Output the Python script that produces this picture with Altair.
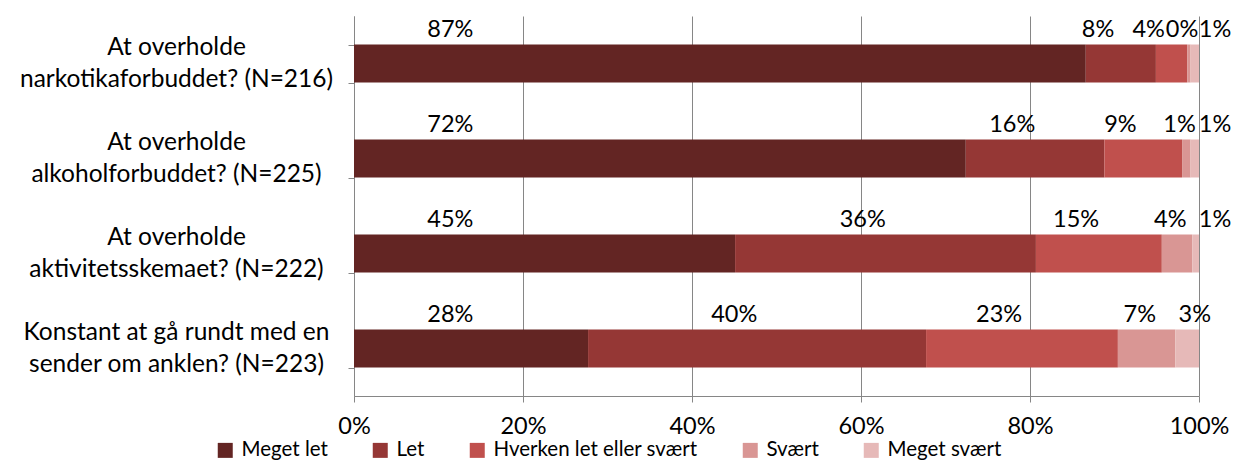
import altair as alt
import pandas as pd

questions = [
    "At overholde\nnarkotikaforbuddet? (N=216)",
    "At overholde\nalkoholforbuddet? (N=225)",
    "At overholde\naktivitetsskemaet? (N=222)",
    "Konstant at gå rundt med en\nsender om anklen? (N=223)",
]
categories = ["Meget let", "Let", "Hverken let eller svært", "Svært", "Meget svært"]
colors = ["#632523", "#953735", "#C0504D", "#D99694", "#E6B9B8"]

meget_let = [86.6, 72.4, 45.1, 27.7]
let_ = [8.3, 16.4, 35.6, 40.0]
hverken = [3.7, 9.2, 14.9, 22.7]
svaert = [0.4, 1.0, 3.6, 6.8]
meget_svaert = [1.0, 1.0, 0.8, 2.8]

x_ticks = [0, 20, 40, 60, 80, 100]

series = [meget_let, let_, hverken, svaert, meget_svaert]
rows = []
for ci, (cat, vals) in enumerate(zip(categories, series)):
    for q, v in zip(questions, vals):
        rows.append({"question": q, "category": cat, "order": ci, "value": v})
df = pd.DataFrame(rows)

FONT = "Lato"
FS = 24.5
GRAY = "#868686"

base = alt.Chart(df).transform_stack(
    stack="value", groupby=["question"], sort=[{"field": "order", "order": "ascending"}],
    as_=["v0", "v1"]
).transform_calculate(
    mid="(datum.v0 + datum.v1) / 2",
    lbl="round(datum.value) + '%'",
).transform_calculate(
    lx=(
        "datum.order == 0 ? 11.4 : "
        "(datum.order == 4 ? (datum.value < 2 ? 101.9 : datum.mid + 0.9) : "
        "(datum.order == 3 ? datum.mid - 0.8 : datum.mid - 2.7))"
    )
)

y_enc = alt.Y(
    "question:N",
    sort=questions,
    scale=alt.Scale(paddingInner=0.6, paddingOuter=0.3),
    axis=alt.Axis(
        title=None, domain=True, domainColor=GRAY, ticks=True, tickColor=GRAY,
        tickSize=6, tickBand="extent", grid=False,
        labelAlign="center", labelBaseline="middle", labelPadding=172,
        labelOffset=-16,
        labelExpr="split(datum.label, '\\n')", labelFont=FONT, labelFontSize=FS,
        labelLineHeight=32, labelColor="#000000", labelLimit=400,
    ),
)

bars = base.mark_bar().encode(
    x=alt.X(
        "v0:Q",
        scale=alt.Scale(domain=[0, 100], nice=False),
        axis=alt.Axis(
            title=None, values=x_ticks, labelExpr="datum.value + '%'",
            grid=True, gridColor=GRAY, domainColor=GRAY, tickColor=GRAY,
            tickSize=6, labelPadding=12, labelFlush=False, labelFont=FONT,
            labelFontSize=23.5, labelColor="#000000",
        ),
    ),
    x2="v1:Q",
    y=y_enc,
    color=alt.Color(
        "category:N",
        sort=categories,
        scale=alt.Scale(domain=categories, range=colors),
        legend=alt.Legend(
            title=None, orient="none", legendX=-139, legendY=424,
            direction="horizontal", symbolType="square", symbolSize=225,
            symbolStrokeWidth=0, labelFont=FONT, labelFontSize=20.5,
            labelColor="#000000", columnPadding=42, labelOffset=6,
            labelLimit=400,
        ),
    ),
    order=alt.Order("order:Q"),
)

labels = base.mark_text(
    font=FONT, fontSize=23.5, color="#000000", baseline="alphabetic", dy=-27
).encode(
    x=alt.X("lx:Q"),
    y=alt.Y("question:N", sort=questions),
    text="lbl:N",
)

chart = alt.layer(bars, labels).properties(
    width=845, height=380,
    autosize=alt.AutoSizeParams(type="none"),
    padding={"left": 346, "top": 8, "right": 34, "bottom": 66},
).configure_view(stroke=None)

chart.save("out.html", embed_options={"renderer": "svg", "actions": False})
